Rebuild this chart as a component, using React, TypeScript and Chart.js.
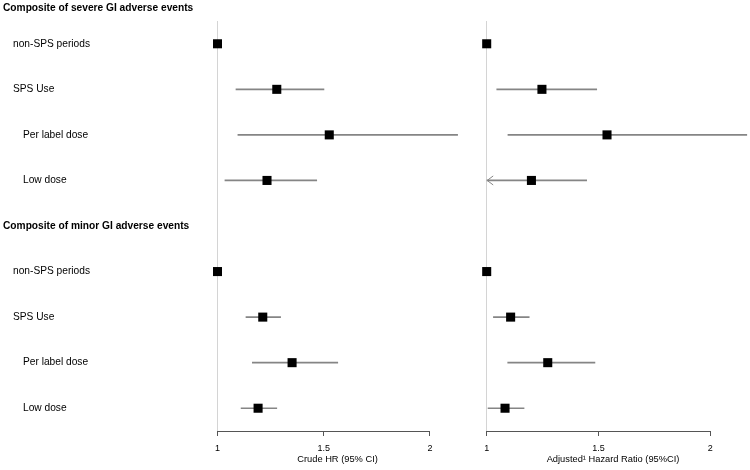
import React, { useEffect, useRef } from 'react';
import { Chart, registerables } from 'chart.js';

Chart.register(...registerables);

const FONT = '"Liberation Sans", Arial, Helvetica, sans-serif';
Chart.defaults.font.family = FONT;

// Rows (top to bottom)
const rowLabels = [
  'Composite of severe GI adverse events',
  'non-SPS periods',
  'SPS Use',
  'Per label dose',
  'Low dose',
  'Composite of minor GI adverse events',
  'non-SPS periods',
  'SPS Use',
  'Per label dose',
  'Low dose',
];
const rowLevels = [0, 1, 1, 2, 2, 0, 1, 1, 2, 2];

// Crude HR (95% CI)
const crudeEst = [null, 1.0, 1.279, 1.526, 1.233, null, 1.0, 1.213, 1.351, 1.191];
const crudeLo = [null, null, 1.087, 1.096, 1.035, null, null, 1.134, 1.164, 1.111];
const crudeHi = [null, null, 1.501, 2.13, 1.467, null, null, 1.297, 1.566, 1.279];

// Adjusted HR (95% CI)
const adjEst = [null, 1.0, 1.247, 1.538, 1.2, null, 1.0, 1.107, 1.273, 1.082];
const adjLo = [null, null, 1.045, 1.095, 0.97, null, null, 1.03, 1.094, 1.006];
const adjHi = [null, null, 1.492, 2.163, 1.447, null, null, 1.19, 1.484, 1.167];

const xTicks = [1, 1.5, 2];
const xTickLabels = ['1', '1.5', '2'];
const xMin = 1;
const xMax = 2.13;

const crudeTitle = 'Crude HR (95% CI)';
const adjTitle = 'Adjusted\u00B9 Hazard Ratio (95%CI)';

const CI_COLOR = '#858585';
const AXIS_COLOR = '#555555';

const axisLinePlugin = {
  id: 'axisLine',
  afterDraw(chart: any) {
    const xs = chart.scales.x;
    const ctx = chart.ctx;
    const y = Math.floor(xs.top) + 0.5;
    ctx.save();
    ctx.strokeStyle = AXIS_COLOR;
    ctx.lineWidth = 1;
    ctx.beginPath();
    ctx.moveTo(xs.getPixelForValue(xTicks[0]), y);
    ctx.lineTo(xs.getPixelForValue(xTicks[xTicks.length - 1]), y);
    ctx.stroke();
    ctx.restore();
  },
};

function makeArrowPlugin(lo: (number | null)[]) {
  return {
    id: 'clipArrows',
    afterDatasetsDraw(chart: any) {
      const xs = chart.scales.x;
      const ys = chart.scales.y;
      const ctx = chart.ctx;
      ctx.save();
      ctx.strokeStyle = CI_COLOR;
      ctx.lineWidth = 1;
      lo.forEach((v, i) => {
        if (v != null && v < xs.min) {
          const x = xs.getPixelForValue(xs.min) + 0.5;
          const y = ys.getPixelForValue(i);
          ctx.beginPath();
          ctx.moveTo(x + 6, y - 4.5);
          ctx.lineTo(x, y);
          ctx.lineTo(x + 6, y + 4.5);
          ctx.stroke();
        }
      });
      ctx.restore();
    },
  };
}

const rowLabelPlugin = {
  id: 'rowLabels',
  afterDraw(chart: any) {
    const ys = chart.scales.y;
    const ctx = chart.ctx;
    ctx.save();
    ctx.fillStyle = '#000';
    ctx.textAlign = 'left';
    ctx.textBaseline = 'middle';
    rowLabels.forEach((label, i) => {
      const lvl = rowLevels[i];
      ctx.font = (lvl === 0 ? 'bold ' : '') + '10.2px ' + FONT;
      const y = Math.max(ys.getPixelForValue(i), chart.chartArea.top - 13);
      ctx.fillText(label, 3 + lvl * 10, y);
    });
    ctx.restore();
  },
};

function buildConfig(
  est: (number | null)[],
  lo: (number | null)[],
  hi: (number | null)[],
  title: string,
  padLeft: number,
  padRight: number,
  extraPlugins: any[]
): any {
  const bars: any[] = [];
  const pts: any[] = [];
  rowLabels.forEach((_, i) => {
    if (lo[i] != null && hi[i] != null) bars.push({ x: [lo[i], hi[i]], y: i });
    if (est[i] != null) pts.push({ x: est[i], y: i });
  });
  return {
    type: 'bar',
    data: {
      datasets: [
        {
          type: 'scatter',
          indexAxis: 'y',
          data: pts,
          pointStyle: 'rect',
          pointRadius: 6.4,
          pointBackgroundColor: '#000',
          pointBorderWidth: 0,
          clip: false,
        },
        {
          type: 'bar',
          indexAxis: 'y',
          data: bars,
          backgroundColor: CI_COLOR,
          borderWidth: 0,
          barThickness: 1,
          clip: { left: 0, top: false, right: false, bottom: false },
        },
      ],
    },
    options: {
      indexAxis: 'y',
      responsive: false,
      animation: false,
      events: [],
      layout: { padding: { left: padLeft, right: padRight, top: 21, bottom: 0 } },
      plugins: { legend: { display: false }, tooltip: { enabled: false }, title: { display: false } },
      scales: {
        x: {
          type: 'linear',
          min: xMin,
          max: xMax,
          offset: false,
          beginAtZero: false,
          afterBuildTicks: (s: any) => {
            s.ticks = xTicks.map((v) => ({ value: v }));
          },
          afterFit: (s: any) => {
            s.height = 39;
          },
          ticks: {
            callback: (_v: any, idx: number) => xTickLabels[idx],
            font: { size: 9, family: FONT },
            color: '#000',
            padding: 7,
            maxRotation: 0,
            autoSkip: false,
          },
          grid: {
            offset: false,
            drawOnChartArea: true,
            drawTicks: true,
            tickLength: 5,
            tickColor: AXIS_COLOR,
            color: (ctx: any) => (ctx.tick && ctx.tick.value === xTicks[0] ? '#d4d4d4' : 'rgba(0,0,0,0)'),
          },
          border: { display: false },
          title: {
            display: true,
            text: title,
            font: { size: 9.3, family: FONT },
            color: '#000',
            padding: { top: 0, bottom: 5 },
          },
        },
        y: {
          type: 'linear',
          display: false,
          min: 0.5,
          max: 9.5,
          reverse: true,
          offset: false,
          beginAtZero: false,
          grid: { offset: false },
        },
      },
    },
    plugins: [axisLinePlugin, ...extraPlugins],
  };
}

export default function App() {
  const leftRef = useRef<HTMLCanvasElement | null>(null);
  const rightRef = useRef<HTMLCanvasElement | null>(null);

  useEffect(() => {
    const left = new Chart(
      leftRef.current as HTMLCanvasElement,
      buildConfig(crudeEst, crudeLo, crudeHi, crudeTitle, 217.5, 470 - 457.6, [makeArrowPlugin(crudeLo), rowLabelPlugin])
    );
    const right = new Chart(
      rightRef.current as HTMLCanvasElement,
      buildConfig(adjEst, adjLo, adjHi, adjTitle, 16.7, 280 - 269.4, [makeArrowPlugin(adjLo)])
    );
    return () => {
      left.destroy();
      right.destroy();
    };
  }, []);

  return (
    <div style={{ position: 'fixed', left: 0, top: 0, width: 750, height: 470, background: '#fff', overflow: 'hidden' }}>
      <canvas ref={leftRef} width={470} height={470} style={{ position: 'absolute', left: 0, top: 0, width: 470, height: 470 }} />
      <canvas ref={rightRef} width={280} height={470} style={{ position: 'absolute', left: 470, top: 0, width: 280, height: 470 }} />
    </div>
  );
}
